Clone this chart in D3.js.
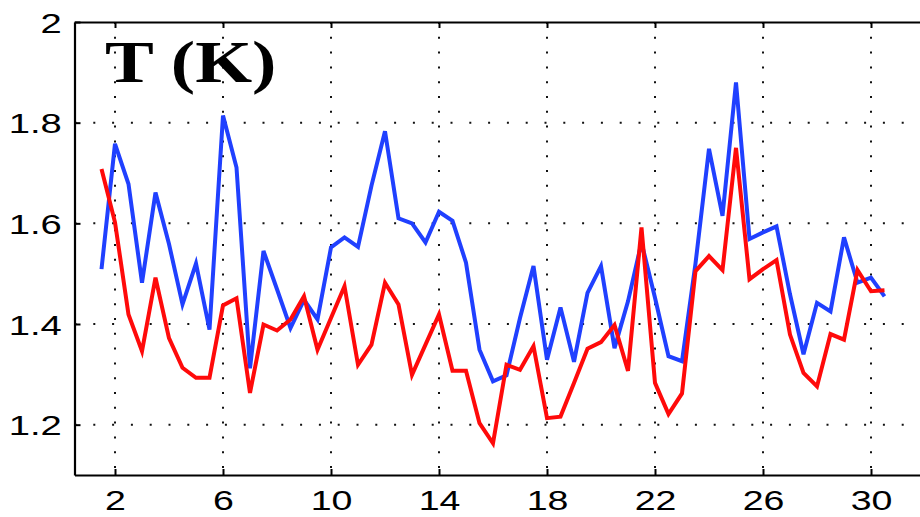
<!DOCTYPE html>
<html>
<head>
<meta charset="utf-8">
<script src="https://cdn.jsdelivr.net/npm/d3@7"></script>
<style>
  html, body { margin: 0; padding: 0; background: #fff; overflow: hidden; }
  svg { display: block; }
</style>
</head>
<body>
<svg id="chart" width="920" height="517"></svg>
<script>
// Day of month (half-day steps)
const days = [
  1.5, 2, 2.5, 3, 3.5, 4, 4.5, 5, 5.5, 6,
  6.5, 7, 7.5, 8, 8.5, 9, 9.5, 10, 10.5, 11,
  11.5, 12, 12.5, 13, 13.5, 14, 14.5, 15, 15.5, 16,
  16.5, 17, 17.5, 18, 18.5, 19, 19.5, 20, 20.5, 21,
  21.5, 22, 22.5, 23, 23.5, 24, 24.5, 25, 25.5, 26,
  26.5, 27, 27.5, 28, 28.5, 29, 29.5, 30, 30.5
];

// Temperature series (K)
const blueSeries = [
  1.509, 1.758, 1.678, 1.482, 1.661, 1.559, 1.439, 1.520, 1.389, 1.814,
  1.711, 1.312, 1.545, 1.469, 1.392, 1.448, 1.409, 1.552, 1.572, 1.553,
  1.675, 1.783, 1.610, 1.600, 1.562, 1.623, 1.605, 1.522, 1.349, 1.286,
  1.298, 1.412, 1.515, 1.329, 1.433, 1.325, 1.462, 1.515, 1.352, 1.445,
  1.562, 1.452, 1.336, 1.326, 1.520, 1.748, 1.615, 1.880, 1.569, 1.582,
  1.594, 1.459, 1.340, 1.442, 1.425, 1.572, 1.482, 1.492, 1.455
];

const redSeries = [
  1.708, 1.602, 1.419, 1.346, 1.492, 1.372, 1.313, 1.293, 1.293, 1.437,
  1.451, 1.263, 1.399, 1.387, 1.409, 1.455, 1.349, 1.412, 1.475, 1.319,
  1.359, 1.482, 1.439, 1.299, 1.359, 1.419, 1.307, 1.307, 1.203, 1.163,
  1.319, 1.309, 1.356, 1.213, 1.216, 1.283, 1.351, 1.364, 1.398, 1.307,
  1.592, 1.283, 1.221, 1.262, 1.505, 1.535, 1.507, 1.750, 1.489, 1.509,
  1.527, 1.379, 1.303, 1.276, 1.380, 1.369, 1.507, 1.465, 1.467
];

// Axis ticks
const xTicks = [2, 6, 10, 14, 18, 22, 26, 30];
const yTicks = [1.2, 1.4, 1.6, 1.8, 2];
const titleText = "T (K)";

const svg = d3.select("#chart");

const plotLeft = 74.5, plotRight = 925, plotTop = 22, plotBottom = 475;

const x = d3.scaleLinear().domain([0.5, 32]).range([plotLeft, plotRight]);
const y = d3.scaleLinear().domain([1.1, 2.0]).range([plotBottom, plotTop]);

const labelFont = "'Liberation Sans', Arial, Helvetica, sans-serif";
const stretch = 1.34;

// Dotted grid
const grid = svg.append("g").attr("class", "grid");
grid.selectAll("line.gx")
  .data(xTicks)
  .join("line")
  .attr("class", "gx")
  .attr("x1", d => x(d)).attr("x2", d => x(d))
  .attr("y1", plotTop).attr("y2", plotBottom)
  .attr("stroke", "#111")
  .attr("stroke-width", 2)
  .attr("stroke-dasharray", "2,12.8");

grid.selectAll("line.gy")
  .data(yTicks.filter(d => d < 2))
  .join("line")
  .attr("class", "gy")
  .attr("x1", plotLeft).attr("x2", plotRight)
  .attr("y1", d => y(d)).attr("y2", d => y(d))
  .attr("stroke", "#111")
  .attr("stroke-width", 2)
  .attr("stroke-dasharray", "2,16.8");

// Series lines
const line = d3.line()
  .x((d, i) => x(days[i]))
  .y(d => y(d));

svg.append("path")
  .datum(blueSeries)
  .attr("d", line)
  .attr("fill", "none")
  .attr("stroke", "#2040ff")
  .attr("stroke-width", 4)
  .attr("stroke-linejoin", "miter");

svg.append("path")
  .datum(redSeries)
  .attr("d", line)
  .attr("fill", "none")
  .attr("stroke", "#ff0a0a")
  .attr("stroke-width", 4)
  .attr("stroke-linejoin", "miter");

// Axes (inward ticks on every side of the box)
const xAxis = svg.append("g")
  .attr("transform", `translate(0,${plotBottom})`)
  .call(d3.axisBottom(x).tickValues(xTicks).tickSizeInner(-6).tickSizeOuter(0).tickFormat(d3.format("d")));

const xAxisTop = svg.append("g")
  .attr("transform", `translate(0,${plotTop})`)
  .call(d3.axisTop(x).tickValues(xTicks).tickSizeInner(-6).tickSizeOuter(0).tickFormat(""));

const yAxis = svg.append("g")
  .attr("transform", `translate(${plotLeft},0)`)
  .call(d3.axisLeft(y).tickValues(yTicks).tickSizeInner(-6).tickSizeOuter(0)
    .tickFormat(d => d === 2 ? "2" : d3.format(".1f")(d)));

[xAxis, xAxisTop, yAxis].forEach(g => {
  g.select(".domain").attr("stroke", "#000").attr("stroke-width", 2.2);
  g.selectAll(".tick line").attr("stroke", "#000").attr("stroke-width", 2);
});

xAxis.selectAll(".tick text")
  .attr("y", 35)
  .attr("dy", 0)
  .attr("fill", "#000")
  .style("font-family", labelFont)
  .style("font-size", "28px")
  .attr("transform", `scale(${stretch},1)`);

yAxis.selectAll(".tick text")
  .attr("x", -9.5)
  .attr("dy", "0.36em")
  .attr("fill", "#000")
  .style("font-family", labelFont)
  .style("font-size", "28.5px")
  .attr("transform", `scale(${stretch},1)`);

// Panel title
svg.append("text")
  .attr("transform", "translate(105,82) scale(1.22,1)")
  .attr("font-family", "'Liberation Serif', 'Times New Roman', serif")
  .attr("font-weight", "bold")
  .attr("font-size", 60)
  .attr("fill", "#000")
  .text(titleText);
</script>
</body>
</html>
